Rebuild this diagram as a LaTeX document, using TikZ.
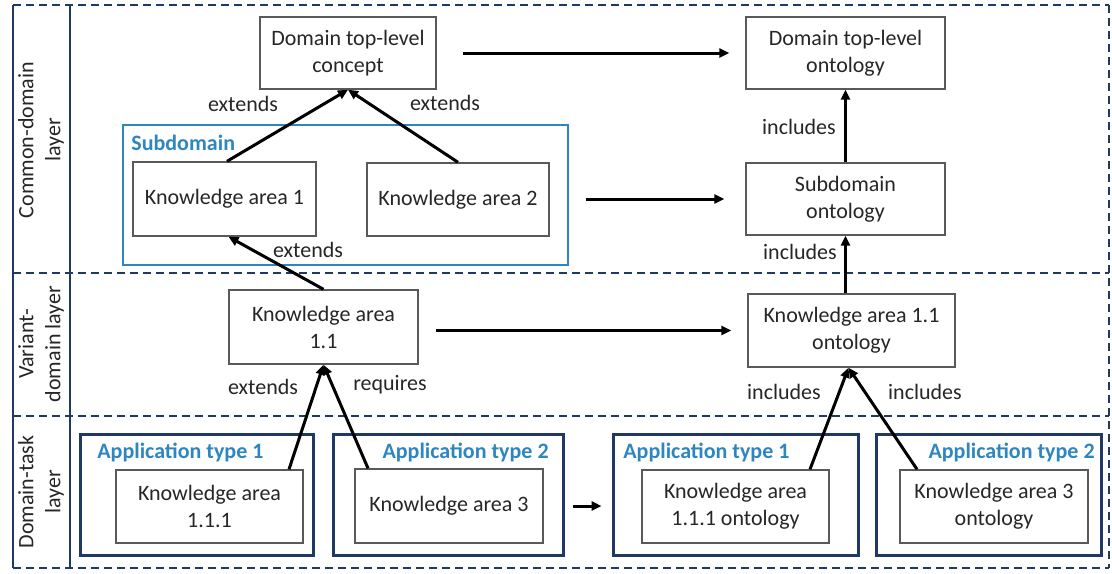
\documentclass[tikz,border=0pt]{standalone}
\usepackage{fontspec}
\setmainfont{Carlito}
\usetikzlibrary{arrows.meta,fit}
\definecolor{navy}{HTML}{1F3864}
\definecolor{lblue}{HTML}{2E86C1}
\definecolor{bgray}{HTML}{595959}
\definecolor{tgray}{HTML}{262626}
\newcommand{\mybx}[6]{%
  \node[box, minimum width={(#4-#2)*0.5pt}, minimum height={(#5-#3)*0.5pt}]
    (#1) at ({(#2+#4)/2},{(#3+#5)/2}) {#6};}
\begin{document}
\begin{tikzpicture}[x=0.5pt,y=-0.5pt,
  txt/.style={font=\fontsize{11}{13.5}\selectfont, text=tgray},
  box/.style={txt, draw=bgray, line width=0.7pt, inner sep=0pt, align=center},
  arr/.style={line width=1.5pt, -{Triangle[length=5pt,width=4.5pt]}},
  lbl/.style={txt, inner sep=0pt},
  appbox/.style={draw=navy, line width=1.5pt, inner sep=0pt},
  apptxt/.style={font=\fontsize{11}{13.5}\selectfont\bfseries, text=lblue, inner sep=0pt},
  subbox/.style={draw=lblue, line width=1.1pt, inner sep=0pt},
  layerdash/.style={draw=navy, line width=1.4pt, dash pattern=on 4pt off 2.5pt},
  layersolid/.style={draw=navy, line width=1.3pt},
  layertxt/.style={txt, rotate=90, align=center, inner sep=0pt}
]
\useasboundingbox (0,0) rectangle (1112,573);

% layer frame
\draw[layerdash] (13,5) -- (1109,5);
\draw[layerdash] (13,273) -- (1109,273);
\draw[layerdash] (13,416) -- (1109,416);
\draw[layerdash] (13,568) -- (1109,568);
\draw[layersolid] (13,5) -- (13,568);
\draw[layersolid] (70,5) -- (70,568);
\draw[layerdash] (1109,5) -- (1109,568);

\node[layertxt] (l1) at (41,140) {Common-domain\\layer};
\node[layertxt] (l2) at (41,344) {Variant-\\domain layer};
\node[layertxt] (l3) at (41,492) {Domain-task\\layer};

% subdomain container
\node[subbox, fit={(123,125) (568,265)}] (sub) {};
\node[apptxt, anchor=west] (subt) at (131,143) {Subdomain};

% application type containers
\node[appbox, fit={(80,434) (313,555)}] (at1l) {};
\node[appbox, fit={(333,434) (563,555)}] (at2l) {};
\node[appbox, fit={(613,434) (858,555)}] (at1r) {};
\node[appbox, fit={(876,434) (1101,555)}] (at2r) {};
\node[apptxt, anchor=west] (at1lt) at (97,452) {Application type 1};
\node[apptxt, anchor=east] (at2lt) at (549,452) {Application type 2};
\node[apptxt, anchor=west] (at1rt) at (623,452) {Application type 1};
\node[apptxt, anchor=east] (at2rt) at (1095,452) {Application type 2};

% concept boxes
\mybx{dtc}{260}{17}{436}{89}{Domain top-level\\concept}
\mybx{dto}{746}{17}{945}{89}{Domain top-level\\ontology}
\mybx{ka1}{133}{162}{316}{236}{Knowledge area 1}
\mybx{ka2}{367}{163}{549}{236}{Knowledge area 2}
\mybx{so}{746}{163}{945}{235}{Subdomain\\ontology}
\mybx{ka11}{229}{290}{418}{364}{Knowledge area\\1.1}
\mybx{ka11o}{748}{294}{955}{367}{Knowledge area 1.1\\ontology}
\mybx{ka111}{116}{470}{303}{543}{Knowledge area\\1.1.1}
\mybx{ka3}{355}{469}{543}{543}{Knowledge area 3}
\mybx{ka111o}{642}{470}{829}{543}{Knowledge area\\1.1.1 ontology}
\mybx{ka3o}{900}{470}{1088}{543}{Knowledge area 3\\ontology}

% connectors
\draw[arr, shorten <=13pt, shorten >=8pt] (dtc.east) -- (dto.west);
\draw[arr, shorten <=8.5pt, shorten >=10.5pt] (sub.east |- so.west) -- (so.west);
\draw[arr, shorten <=8.5pt, shorten >=8pt] (ka11.east |- ka11o.west) -- (ka11o.west);
\draw[arr, shorten <=4pt, shorten >=5pt] (at2l.east |- ka3.east) -- (at1r.west |- ka3.east);

\draw[arr] ([xshift=1.25pt]ka1.north) -- (dtc.south);
\draw[arr] (ka2.north) -- (dtc.south);
\draw[arr] (ka11.north) -- ([xshift=2pt]ka1.south);
\draw[arr] ([xshift=39.75pt]ka111.north) -- (ka11.south);
\draw[arr] ([xshift=-40.5pt]ka3.north) -- (ka11.south);
\draw[arr] (so.north) -- (dto.south);
\draw[arr] (so.south |- ka11o.north) -- (so.south);
\draw[arr] ([xshift=37.25pt]ka111o.north) -- ([xshift=-1.5pt]ka11o.south);
\draw[arr] ([xshift=-38.5pt]ka3o.north) -- ([xshift=-1.5pt]ka11o.south);

% connector labels
\node[lbl] (e1) at (243,104) {extends};
\node[lbl] (e2) at (445,103) {extends};
\node[lbl] (i1) at (799,127) {includes};
\node[lbl] (e3) at (308,250) {extends};
\node[lbl] (i2) at (800,252) {includes};
\node[lbl] (e4) at (263,387) {extends};
\node[lbl] (r1) at (390,385) {requires};
\node[lbl] (i3) at (784,392) {includes};
\node[lbl] (i4) at (925,392) {includes};
\end{tikzpicture}
\end{document}
